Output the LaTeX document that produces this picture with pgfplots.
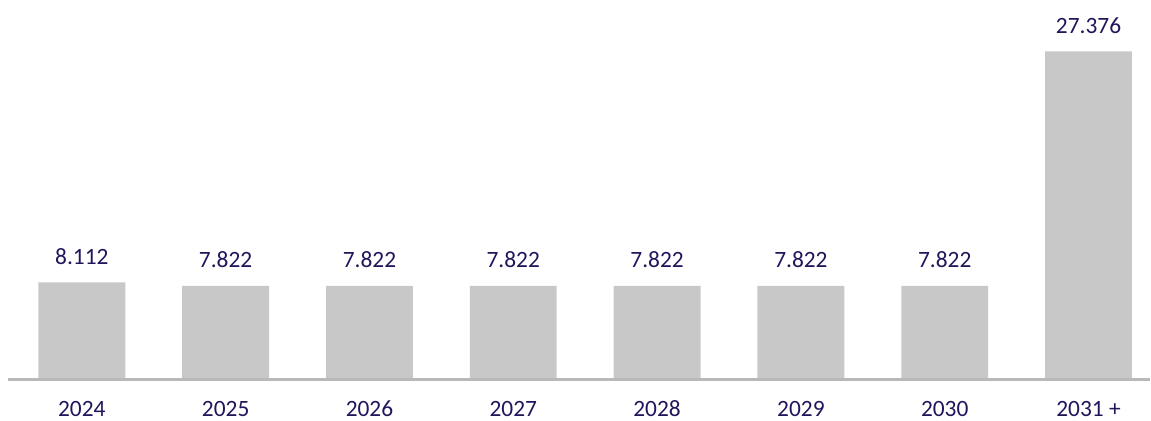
\documentclass[border=0pt]{standalone}
\usepackage{pgfplots}
\pgfplotsset{compat=1.18}
\usepackage{pgfplotstable}
\usepackage{fontspec}
\setmainfont{Carlito}
\definecolor{txt}{RGB}{34,21,92}
\definecolor{bar}{RGB}{200,200,200}
\definecolor{axl}{RGB}{185,185,185}
\pgfplotstableread{
x y lab
0 8.112 8.112
1 7.822 7.822
2 7.822 7.822
3 7.822 7.822
4 7.822 7.822
5 7.822 7.822
6 7.822 7.822
7 27.376 27.376
}\data
\begin{document}
\begin{tikzpicture}
\begin{axis}[
  scale only axis,
  width=1143bp, height=380bp,
  xmin=-0.514, xmax=7.424,
  ymin=0, ymax=31.667,
  axis lines=none,
  clip=false,
  xtick={0,...,7},
  xticklabels={2024,2025,2026,2027,2028,2029,2030,2031 +},
  ytick=\empty,
  bar width=87bp,
  font=\fontsize{23.5}{28}\selectfont,
  nodes near coords,
  point meta=explicit symbolic,
  every node near coord/.append style={anchor=base, inner sep=0pt, yshift=18bp, text=txt, font=\fontsize{23.5}{28}\selectfont},
]
\addplot[ybar, fill=bar, draw=none] table[x=x, y=y, meta=lab] {\data};
\draw[axl, line width=3bp] (axis cs:-0.514,0) -- (axis cs:7.424,0);
\foreach \i/\l in {0/2024,1/2025,2/2026,3/2027,4/2028,5/2029,6/2030,7/2031 +}{
  \edef\tmp{\noexpand\node[text=txt, anchor=base, inner sep=0pt, font=\noexpand\fontsize{23.5}{28}\noexpand\selectfont] at (axis cs:\i,0) [yshift=-37bp] {\l};}
  \tmp
}
\path (axis cs:-0.569,-3.417) rectangle (axis cs:7.424,31.667);
\end{axis}
\end{tikzpicture}
\end{document}
